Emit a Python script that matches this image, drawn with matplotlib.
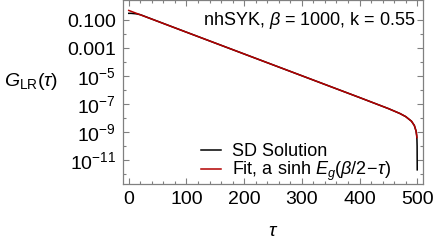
import numpy as np
import matplotlib
matplotlib.use("Agg")
import matplotlib.pyplot as plt
from matplotlib.ticker import FixedLocator, FixedFormatter, MultipleLocator, NullFormatter

plt.rcParams['font.family'] = ['Liberation Sans', 'DejaVu Sans']
plt.rcParams['mathtext.fontset'] = 'custom'
plt.rcParams['mathtext.rm'] = 'Liberation Sans'
plt.rcParams['mathtext.it'] = 'Liberation Sans:italic'
plt.rcParams['mathtext.bf'] = 'Liberation Sans:bold'

# SD solution
tau_sd = [0, 4, 8, 12, 16, 20, 25, 30, 100, 200, 300, 400, 450, 470, 480, 490, 495, 498, 499, 499.5, 499.8, 500]
g_sd = [0.30, 0.30, 0.29, 0.28, 0.262, 0.24, 0.202, 0.168, 1.35e-2, 3.76e-4, 1.05e-5, 2.92e-7,
        4.74e-8, 2.11e-8, 1.27e-8, 5.96e-9, 2.93e-9, 1.17e-9, 5.84e-10, 2.9e-10, 1.0e-10, 2.0e-12]

# fit a sinh(Eg(beta/2 - tau))
tau_fit = [0, 100, 200, 300, 400, 450, 470, 480, 490, 495, 498, 499, 499.5]
g_fit = [0.484, 1.35e-2, 3.76e-4, 1.05e-5, 2.92e-7, 4.74e-8, 2.11e-8, 1.27e-8, 5.96e-9,
         2.93e-9, 1.17e-9, 5.84e-10, 4.0e-10]

y_major = [1e-1, 1e-3, 1e-5, 1e-7, 1e-9, 1e-11]
y_labels = ['0.100', '0.001', r'$10^{-5}$', r'$10^{-7}$', r'$10^{-9}$', r'$10^{-11}$']
y_minor = [1e-2, 1e-4, 1e-6, 1e-8, 1e-10, 1e-12]

fig = plt.figure(figsize=(4.36, 2.44), dpi=100)
ax = fig.add_axes([123 / 436, 1 - 184 / 244, 300 / 436, 184 / 244])

ax.plot(tau_sd, g_sd, color='black', lw=1.1, label='SD Solution')
ax.plot(tau_fit, g_fit, color='#B30000', lw=1.1, label=r'Fit, a sinh $E_g(\beta/2\!-\!\tau)$')
ax.set_yscale('log')
ax.set_xlim(-10, 510)
ax.set_ylim(10 ** -12.71, 10 ** 0.43)

ax.yaxis.set_major_locator(FixedLocator(y_major))
ax.yaxis.set_major_formatter(FixedFormatter(y_labels))
ax.yaxis.set_minor_locator(FixedLocator(y_minor))
ax.yaxis.set_minor_formatter(NullFormatter())
ax.xaxis.set_major_locator(MultipleLocator(100))
ax.xaxis.set_minor_locator(MultipleLocator(20))

frame_col = '#808080'
for s in ax.spines.values():
    s.set_color(frame_col)
    s.set_linewidth(0.9)
ax.tick_params(which='both', direction='in', top=True, right=True, color=frame_col,
               labelsize=14, width=0.8)
ax.tick_params(which='major', length=4, pad=5)
ax.tick_params(which='minor', length=2.5)

ax.set_xlabel(r'$\tau$', fontsize=14, labelpad=11)
ax.set_ylabel(r'$G_{\mathrm{LR}}(\tau)$', fontsize=14, rotation=0, labelpad=0)
ax.yaxis.set_label_coords(-0.305, 0.5)

ax.text(0.975, 0.89, r'nhSYK, $\beta$ = 1000, k = 0.55', transform=ax.transAxes,
        ha='right', va='center', fontsize=13)

ax.legend(loc='lower left', bbox_to_anchor=(0.23, -0.045), frameon=False, fontsize=13,
          handlelength=1.1, handletextpad=0.6, labelspacing=0.0, borderpad=0)

fig.savefig('out.png', dpi=100)
